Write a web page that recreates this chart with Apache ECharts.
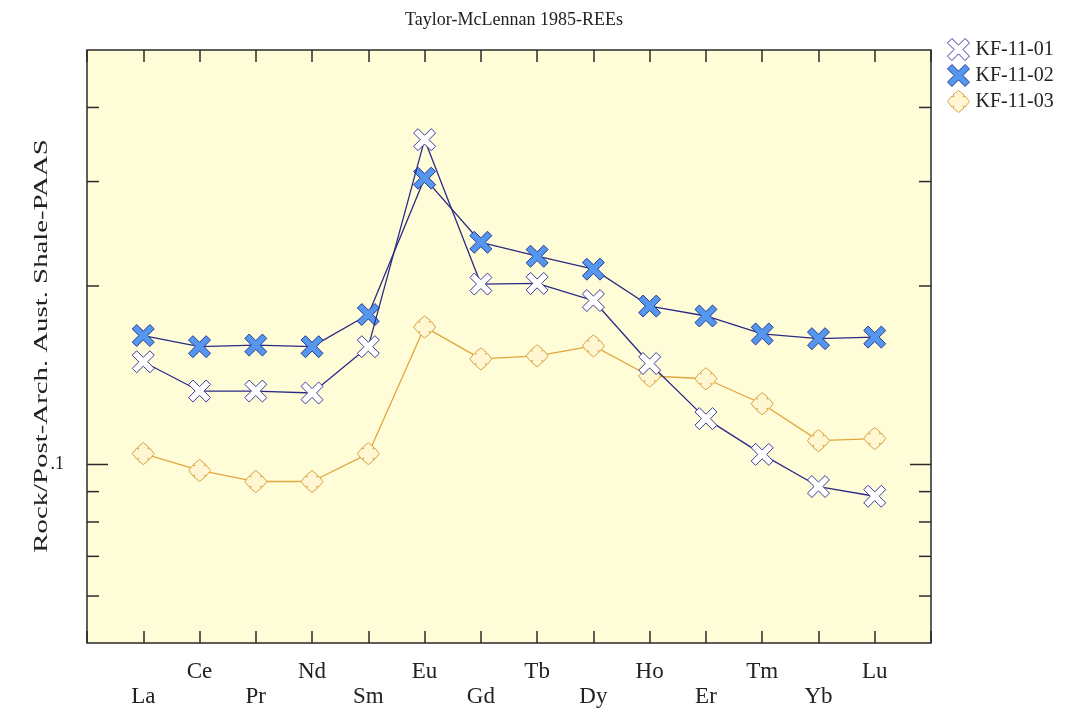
<!DOCTYPE html>
<html>
<head>
<meta charset="utf-8">
<script src="https://cdn.jsdelivr.net/npm/echarts@6/dist/echarts.min.js"></script>
<style>
html,body{margin:0;padding:0;background:#fff;}
#chart{width:1070px;height:713px;}
</style>
</head>
<body>
<div id="chart"></div>
<script>
var elements = ['La','Ce','Pr','Nd','Sm','Eu','Gd','Tb','Dy','Ho','Er','Tm','Yb','Lu'];
var seriesNames = ['KF-11-01','KF-11-02','KF-11-03'];
var kf1101 = [0.149,0.133,0.133,0.132,0.158,0.353,0.2015,0.202,0.189,0.148,0.1195,0.104,0.0918,0.0884];
var kf1102 = [0.165,0.158,0.159,0.158,0.179,0.304,0.237,0.2245,0.2135,0.185,0.178,0.166,0.163,0.164];
var kf1103 = [0.1043,0.0977,0.0936,0.0936,0.1043,0.1706,0.1507,0.1525,0.1585,0.141,0.1395,0.1266,0.1097,0.1106];
var yMin = 0.05, yMax = 0.5;
var yMajorTicks = [0.1];
var yMinorTicks = [0.06,0.07,0.08,0.09,0.2,0.3,0.4];
var yLabels = {'0.1': '.1'};
var titleText = 'Taylor-McLennan 1985-REEs';
var yName = 'Rock/Post-Arch. Aust. Shale-PAAS';

var FONT = '"Liberation Serif", "Times New Roman", serif';
var xSym = 'path://M-10,-6 L-6,-10 L0,-4 L6,-10 L10,-6 L4,0 L10,6 L6,10 L0,4 L-6,10 L-10,6 L-4,0 Z';
var starSym = 'path://M0,-10 L5,-6 Q3,-3 6,-5 L10,0 L6,5 Q3,3 5,6 L0,10 L-5,6 Q-3,3 -6,5 L-10,0 L-6,-5 Q-3,-3 -5,-6 Z';

function toPoints(arr){ return arr.map(function(v,i){ return [i+1, v]; }); }

var styles = [
  {sym: xSym, fill: '#ffffff', border: '#3b3b9c', line: '#2b2b86'},
  {sym: xSym, fill: '#5596ee', border: '#2b3a92', line: '#2b2b86'},
  {sym: starSym, fill: '#fff6d2', border: '#d9a341', line: '#e2a63c'}
];
var dataSets = [kf1101, kf1102, kf1103];

var lineSeries = dataSets.map(function(d, k){
  return {
    name: seriesNames[k], type: 'line', xAxisIndex: 0, yAxisIndex: 0,
    data: toPoints(d), symbol: styles[k].sym, symbolSize: 22,
    itemStyle: {color: styles[k].fill, borderColor: styles[k].border, borderWidth: 1},
    lineStyle: {color: styles[k].line, width: 1.3},
    z: 3 + (2 - k), animation: false
  };
});

var tickData = yMajorTicks.map(function(v){ return [v, 1]; }).concat(yMinorTicks.map(function(v){ return [v, 0]; }));
var tickSeries = {
  type: 'custom', xAxisIndex: 0, yAxisIndex: 0, silent: true, animation: false, z: 2,
  data: tickData,
  renderItem: function(params, api){
    var v = api.value(0), major = api.value(1);
    var len = major ? 21 : 12;
    var pl = api.coord([0, v]), pr = api.coord([15, v]);
    return {type: 'group', children: [
      {type: 'line', shape: {x1: pl[0], y1: pl[1], x2: pl[0] + len, y2: pl[1]}, style: {stroke: '#2a2a2a', lineWidth: 1.5}},
      {type: 'line', shape: {x1: pr[0] - len, y1: pr[1], x2: pr[0], y2: pr[1]}, style: {stroke: '#2a2a2a', lineWidth: 1.5}}
    ]};
  }
};

var chart = echarts.init(document.getElementById('chart'), null, {renderer: 'canvas'});
chart.setOption({
  backgroundColor: '#ffffff',
  animation: false,
  title: {text: titleText, left: 509, textAlign: 'center', top: 6,
    textStyle: {fontFamily: FONT, fontSize: 18, fontWeight: 'normal', color: '#222'}},
  legend: {
    orient: 'vertical', left: 942, top: 33, itemWidth: 24, itemHeight: 22, itemGap: 3,
    textStyle: {fontFamily: FONT, fontSize: 20, color: '#222'},
    data: seriesNames.map(function(n, k){ return {name: n, icon: styles[k].sym, itemStyle: {color: styles[k].fill, borderColor: styles[k].border, borderWidth: 1}}; })
  },
  grid: {left: 87, right: 139, top: 50, bottom: 70, show: true, backgroundColor: '#fffcd8', borderColor: '#2a2a2a', borderWidth: 1.5},
  xAxis: [
    {type: 'value', min: 0, max: 15, interval: 1, position: 'bottom',
      axisLine: {show: false}, splitLine: {show: false},
      axisTick: {show: true, inside: true, length: 12, lineStyle: {color: '#2a2a2a', width: 1.5}},
      axisLabel: {margin: 16, fontFamily: FONT, fontSize: 23, color: '#222', lineHeight: 25,
        formatter: function(v){ var i = Math.round(v) - 1; if (i < 0 || i >= elements.length) return ''; return (i % 2 === 0) ? '\n' + elements[i] : elements[i]; }}},
    {type: 'value', min: 0, max: 15, interval: 1, position: 'top',
      axisLine: {show: false}, splitLine: {show: false},
      axisTick: {show: true, inside: true, length: 12, lineStyle: {color: '#2a2a2a', width: 1.5}},
      axisLabel: {show: false}}
  ],
  yAxis: [{type: 'log', logBase: 10, min: yMin, max: yMax,
    axisLine: {show: false}, splitLine: {show: false}, axisTick: {show: false}, minorTick: {show: false},
    axisLabel: {margin: 23, fontFamily: FONT, fontSize: 18, color: '#222', padding: [6, 0, 0, 0],
      formatter: function(v){ for (var k in yLabels) { if (Math.abs(v - parseFloat(k)) < 1e-9) return yLabels[k]; } return ''; }}}],
  graphic: [{type: 'text', x: 42, y: 346, rotation: Math.PI / 2, scaleX: 1.6,
    style: {text: yName, font: '18px ' + FONT, fill: '#222', textAlign: 'center', textVerticalAlign: 'middle'}}],
  series: lineSeries.concat([tickSeries])
});
</script>
</body>
</html>
